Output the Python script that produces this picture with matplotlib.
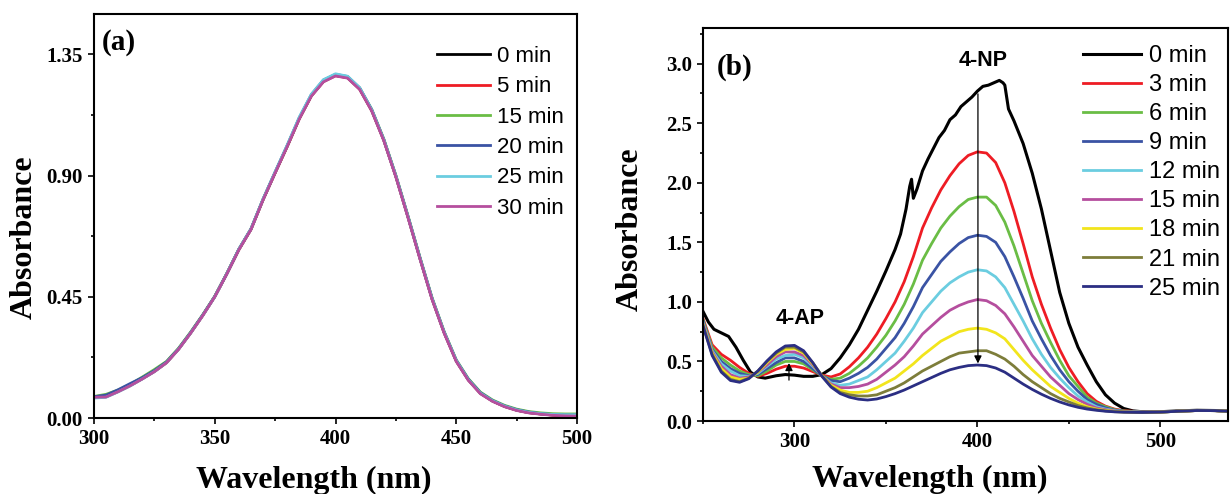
import matplotlib
matplotlib.use("Agg")
import matplotlib.pyplot as plt
from matplotlib.ticker import MultipleLocator, FormatStrFormatter

serif = "Liberation Serif"
sans = "Liberation Sans"

# ---------------- panel (a): stability of 4-NP, no catalyst ----------------
wl_a = [300, 305, 310, 315, 320, 325, 330, 335, 340, 345, 350, 355, 360, 365, 370,
        375, 380, 385, 390, 395, 400, 405, 410, 415, 420, 425, 430, 435, 440, 445,
        450, 455, 460, 465, 470, 475, 480, 485, 490, 495, 500]
a_0min = [0.078, 0.079, 0.099, 0.121, 0.146, 0.173, 0.206, 0.256, 0.316, 0.381, 0.451, 0.536,
          0.626, 0.701, 0.811, 0.911, 1.009, 1.112, 1.197, 1.250, 1.272, 1.264, 1.222, 1.142,
          1.032, 0.897, 0.747, 0.592, 0.442, 0.317, 0.212, 0.142, 0.092, 0.063, 0.043,
          0.029, 0.020, 0.015, 0.011, 0.009, 0.008]
a_5min = [0.077, 0.079, 0.098, 0.120, 0.146, 0.173, 0.205, 0.255, 0.315, 0.380, 0.450, 0.535,
          0.625, 0.700, 0.810, 0.910, 1.008, 1.111, 1.196, 1.249, 1.271, 1.263, 1.221, 1.141,
          1.031, 0.896, 0.746, 0.591, 0.441, 0.316, 0.211, 0.141, 0.091, 0.063, 0.043,
          0.029, 0.020, 0.015, 0.011, 0.009, 0.008]
a_15min = [0.080, 0.088, 0.104, 0.125, 0.152, 0.180, 0.210, 0.259, 0.319, 0.383, 0.452, 0.537,
           0.627, 0.702, 0.812, 0.912, 1.010, 1.113, 1.198, 1.251, 1.273, 1.266, 1.225, 1.146,
           1.036, 0.901, 0.751, 0.596, 0.446, 0.321, 0.216, 0.146, 0.096, 0.067, 0.047,
           0.033, 0.024, 0.019, 0.016, 0.015, 0.015]
a_20min = [0.079, 0.085, 0.105, 0.128, 0.150, 0.176, 0.208, 0.257, 0.317, 0.382, 0.451, 0.536,
           0.627, 0.702, 0.812, 0.913, 1.012, 1.115, 1.201, 1.255, 1.276, 1.268, 1.226, 1.145,
           1.034, 0.899, 0.749, 0.594, 0.444, 0.319, 0.214, 0.144, 0.094, 0.065, 0.045,
           0.031, 0.022, 0.016, 0.013, 0.011, 0.011]
a_25min = [0.074, 0.077, 0.097, 0.119, 0.145, 0.172, 0.205, 0.255, 0.315, 0.380, 0.450, 0.536,
           0.627, 0.702, 0.813, 0.914, 1.013, 1.117, 1.202, 1.256, 1.278, 1.269, 1.226, 1.144,
           1.033, 0.898, 0.748, 0.593, 0.443, 0.318, 0.213, 0.142, 0.092, 0.064, 0.044,
           0.030, 0.021, 0.016, 0.013, 0.012, 0.012]
a_30min = [0.077, 0.078, 0.098, 0.120, 0.145, 0.172, 0.205, 0.255, 0.315, 0.380, 0.450, 0.535,
           0.625, 0.700, 0.810, 0.910, 1.008, 1.110, 1.195, 1.248, 1.270, 1.262, 1.220, 1.140,
           1.030, 0.895, 0.745, 0.590, 0.440, 0.315, 0.210, 0.140, 0.090, 0.062, 0.042,
           0.028, 0.019, 0.014, 0.010, 0.008, 0.007]
labels_a = ["0 min", "5 min", "15 min", "20 min", "25 min", "30 min"]

# ---------------- panel (b): reduction of 4-NP to 4-AP ----------------
wl_b0 = [250, 253, 256, 260, 264, 268, 272, 276, 280, 284, 290, 295, 300, 305, 310, 315, 320,
         325, 330, 335, 340, 345, 350, 355, 358, 361, 363, 364, 365, 367, 370, 373, 376, 379,
         382, 385, 388, 391, 394, 397, 400, 403, 406, 409, 412, 414, 415, 416, 417, 420, 425,
         430, 435, 440, 445, 450, 455, 460, 465, 470, 475, 480, 485, 490, 500, 510, 520, 530,
         540]
b_0min = [0.92, 0.83, 0.77, 0.74, 0.71, 0.62, 0.51, 0.41, 0.37, 0.36, 0.38, 0.39, 0.385, 0.375,
          0.375, 0.39, 0.44, 0.53, 0.64, 0.77, 0.93, 1.09, 1.26, 1.44, 1.57, 1.78, 1.97, 2.03,
          1.87, 1.95, 2.10, 2.20, 2.29, 2.38, 2.44, 2.53, 2.57, 2.64, 2.68, 2.72, 2.77, 2.81,
          2.82, 2.84, 2.86, 2.84, 2.82, 2.72, 2.62, 2.52, 2.33, 2.08, 1.78, 1.43, 1.08, 0.82,
          0.62, 0.47, 0.33, 0.22, 0.15, 0.105, 0.085, 0.078, 0.078, 0.085, 0.09, 0.088, 0.08]

wl_b = [250, 255, 260, 265, 270, 275, 280, 285, 290, 295, 300, 305, 310, 315, 320, 325, 330,
        335, 340, 345, 350, 355, 360, 365, 370, 375, 380, 385, 390, 395, 400, 405, 410, 415,
        420, 425, 430, 435, 440, 445, 450, 455, 460, 465, 470, 475, 480, 490, 500, 510, 520,
        530, 540]
b_3min = [0.86, 0.64, 0.56, 0.51, 0.45, 0.40, 0.375, 0.40, 0.435, 0.46, 0.46, 0.445, 0.415,
          0.385, 0.37, 0.395, 0.455, 0.53, 0.62, 0.73, 0.86, 1.00, 1.17, 1.38, 1.62, 1.79, 1.94,
          2.06, 2.16, 2.23, 2.26, 2.25, 2.17, 2.00, 1.76, 1.49, 1.21, 0.98, 0.78, 0.60, 0.45,
          0.33, 0.23, 0.165, 0.125, 0.10, 0.087, 0.076, 0.076, 0.082, 0.088, 0.087, 0.08]
b_6min = [0.85, 0.62, 0.53, 0.47, 0.42, 0.39, 0.38, 0.42, 0.47, 0.50, 0.50, 0.48, 0.43, 0.38,
          0.35, 0.36, 0.40, 0.46, 0.53, 0.62, 0.72, 0.84, 0.98, 1.15, 1.35, 1.49, 1.62, 1.72,
          1.80, 1.86, 1.88, 1.88, 1.81, 1.67, 1.47, 1.24, 1.01, 0.82, 0.66, 0.51, 0.38, 0.29,
          0.20, 0.15, 0.12, 0.095, 0.084, 0.075, 0.075, 0.082, 0.088, 0.087, 0.08]
b_9min = [0.84, 0.60, 0.50, 0.44, 0.40, 0.38, 0.39, 0.44, 0.49, 0.53, 0.53, 0.50, 0.44, 0.38,
          0.34, 0.33, 0.36, 0.40, 0.45, 0.52, 0.61, 0.70, 0.82, 0.96, 1.12, 1.23, 1.34, 1.42,
          1.49, 1.54, 1.56, 1.55, 1.50, 1.38, 1.21, 1.03, 0.84, 0.69, 0.55, 0.43, 0.33, 0.25,
          0.18, 0.14, 0.11, 0.091, 0.082, 0.074, 0.075, 0.082, 0.088, 0.087, 0.08]
b_12min = [0.83, 0.59, 0.48, 0.42, 0.38, 0.375, 0.40, 0.46, 0.52, 0.55, 0.56, 0.53, 0.46,
           0.38, 0.32, 0.30, 0.31, 0.34, 0.37, 0.43, 0.50, 0.57, 0.67, 0.78, 0.91, 1.00, 1.09,
           1.16, 1.21, 1.25, 1.27, 1.26, 1.21, 1.12, 0.98, 0.84, 0.69, 0.56, 0.45, 0.36, 0.28,
           0.21, 0.16, 0.12, 0.10, 0.087, 0.08, 0.074, 0.075, 0.082, 0.088, 0.087, 0.08]
b_15min = [0.82, 0.58, 0.46, 0.39, 0.36, 0.37, 0.41, 0.47, 0.54, 0.58, 0.58, 0.55, 0.47, 0.38,
           0.31, 0.28, 0.28, 0.29, 0.31, 0.35, 0.41, 0.47, 0.54, 0.63, 0.73, 0.80, 0.87, 0.93,
           0.97, 1.00, 1.02, 1.01, 0.97, 0.90, 0.79, 0.67, 0.55, 0.46, 0.37, 0.30, 0.23, 0.18,
           0.14, 0.11, 0.095, 0.084, 0.078, 0.073, 0.075, 0.082, 0.088, 0.087, 0.08]
b_18min = [0.81, 0.57, 0.44, 0.37, 0.35, 0.36, 0.41, 0.49, 0.56, 0.60, 0.61, 0.57, 0.48, 0.38,
           0.30, 0.26, 0.24, 0.24, 0.25, 0.28, 0.32, 0.36, 0.42, 0.48, 0.55, 0.61, 0.67, 0.71,
           0.75, 0.77, 0.78, 0.77, 0.74, 0.69, 0.60, 0.51, 0.43, 0.36, 0.29, 0.24, 0.19, 0.15,
           0.12, 0.10, 0.089, 0.081, 0.076, 0.072, 0.075, 0.082, 0.088, 0.087, 0.08]
b_21min = [0.80, 0.56, 0.42, 0.35, 0.33, 0.36, 0.42, 0.50, 0.57, 0.62, 0.62, 0.58, 0.49, 0.38,
           0.29, 0.24, 0.22, 0.21, 0.21, 0.22, 0.25, 0.28, 0.32, 0.37, 0.42, 0.46, 0.50, 0.54,
           0.57, 0.58, 0.59, 0.59, 0.56, 0.52, 0.46, 0.39, 0.33, 0.28, 0.23, 0.19, 0.16, 0.13,
           0.11, 0.095, 0.085, 0.078, 0.075, 0.072, 0.075, 0.082, 0.088, 0.087, 0.08]
b_25min = [0.80, 0.55, 0.41, 0.34, 0.325, 0.355, 0.42, 0.505, 0.58, 0.63, 0.635, 0.59, 0.49,
           0.375, 0.285, 0.23, 0.20, 0.183, 0.176, 0.185, 0.205, 0.23, 0.26, 0.295, 0.33, 0.365,
           0.40, 0.43, 0.45, 0.465, 0.47, 0.465, 0.445, 0.41, 0.36, 0.31, 0.265, 0.225, 0.19,
           0.16, 0.135, 0.115, 0.10, 0.09, 0.082, 0.077, 0.074, 0.072, 0.075, 0.082, 0.088,
           0.087, 0.08]
labels_b = ["0 min", "3 min", "6 min", "9 min", "12 min", "15 min", "18 min", "21 min", "25 min"]

colors_b = ["#000000", "#ee1c24", "#6abd45", "#3a53a4", "#6bcde0", "#b54e9e", "#f2e51c",
            "#7d7d3a", "#2b2e83"]
colors_a = ["#000000", "#ee1c24", "#6abd45", "#3a53a4", "#6bcde0", "#b54e9e"]

W, H = 1231, 494
fig = plt.figure(figsize=(W / 100, H / 100), dpi=100)


def px_axes(x0, x1, ytop, ybot):
    return fig.add_axes([x0 / W, 1 - ybot / H, (x1 - x0) / W, (ybot - ytop) / H])


def style(ax):
    for s in ax.spines.values():
        s.set_linewidth(1.5)
    ax.tick_params(which="both", direction="out", top=False, right=False, width=1.2)
    ax.tick_params(which="major", length=4.5, pad=3.5)
    ax.tick_params(which="minor", length=2.5)
    for t in ax.get_xticklabels() + ax.get_yticklabels():
        t.set_fontfamily(serif)
        t.set_fontweight("bold")
        t.set_fontsize(15)


# panel (a)
ax1 = px_axes(94, 577, 14, 418)
for ys, c, lab in zip([a_0min, a_5min, a_15min, a_20min, a_25min, a_30min], colors_a, labels_a):
    ax1.plot(wl_a, ys, color=c, lw=2.0, label=lab)
ax1.set_xlim(300, 500)
ax1.set_ylim(0, 1.5)
ax1.xaxis.set_major_locator(MultipleLocator(50))
ax1.xaxis.set_minor_locator(MultipleLocator(25))
ax1.yaxis.set_major_locator(MultipleLocator(0.45))
ax1.yaxis.set_minor_locator(MultipleLocator(0.225))
ax1.yaxis.set_major_formatter(FormatStrFormatter("%.2f"))
style(ax1)
ax1.text(0.017, 0.93, "(a)", transform=ax1.transAxes, fontfamily=serif, fontweight="bold",
         fontsize=21, ha="left", va="center")
ax1.legend(loc="upper left", bbox_to_anchor=(437 / W, 1 - 46 / H), bbox_transform=fig.transFigure,
           frameon=False, prop={"family": sans, "size": 16}, handlelength=2.4,
           handletextpad=0.32, labelspacing=0.42, borderpad=0, borderaxespad=0)

# panel (b)
ax2 = px_axes(703, 1228, 28, 421)
ax2.plot(wl_b0, b_0min, color=colors_b[0], lw=2.2, label=labels_b[0])
for ys, c, lab in zip([b_3min, b_6min, b_9min, b_12min, b_15min, b_18min, b_21min, b_25min],
                      colors_b[1:], labels_b[1:]):
    ax2.plot(wl_b, ys, color=c, lw=2.0, label=lab)
ax2.set_xlim(250, 537)
ax2.set_ylim(0, 3.3)
ax2.xaxis.set_major_locator(MultipleLocator(100))
ax2.xaxis.set_minor_locator(MultipleLocator(50))
ax2.yaxis.set_major_locator(MultipleLocator(0.5))
ax2.yaxis.set_minor_locator(MultipleLocator(0.25))
ax2.yaxis.set_major_formatter(FormatStrFormatter("%.1f"))
style(ax2)
ax2.text(0.027, 0.90, "(b)", transform=ax2.transAxes, fontfamily=serif, fontweight="bold",
         fontsize=21, ha="left", va="center")
ax2.annotate("", xy=(400.3, 0.46), xytext=(400.3, 2.77),
             arrowprops=dict(arrowstyle="-|>", color="black", lw=0.9, mutation_scale=11))
ax2.annotate("", xy=(297, 0.51), xytext=(297, 0.32),
             arrowprops=dict(arrowstyle="-|>", color="black", lw=0.9, mutation_scale=11))
ax2.text(403, 3.03, "4-NP", fontfamily=sans, fontweight="bold", fontsize=15.5,
         ha="center", va="center")
ax2.text(303, 0.86, "4-AP", fontfamily=sans, fontweight="bold", fontsize=15.5,
         ha="center", va="center")
ax2.legend(loc="upper left", bbox_to_anchor=(1083 / W, 1 - 45 / H), bbox_transform=fig.transFigure,
           frameon=False, prop={"family": sans, "size": 17}, handlelength=2.45,
           handletextpad=0.34, labelspacing=0.30, borderpad=0, borderaxespad=0)

# axis titles
lab_kw = dict(fontfamily=serif, fontweight="bold", fontsize=23)
fig.text(24 / W, 1 - 237 / H, "Absorbance", rotation=90, ha="center", va="center", **lab_kw)
fig.text(314 / W, 1 - 488 / H, "Wavelength (nm)", ha="center", va="baseline", **lab_kw)
fig.text(630 / W, 1 - 229 / H, "Absorbance", rotation=90, ha="center", va="center", **lab_kw)
fig.text(930 / W, 1 - 487 / H, "Wavelength (nm)", ha="center", va="baseline", **lab_kw)

fig.savefig("out.png", dpi=100)
